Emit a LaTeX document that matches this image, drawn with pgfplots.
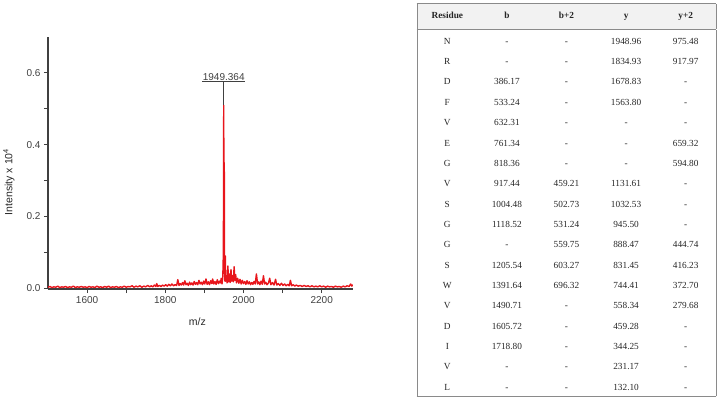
\documentclass[border=0pt]{standalone}
\usepackage[table]{xcolor}
\usepackage{array}
\usepackage{fontspec}
\setmainfont{Liberation Serif}
\newfontfamily\arial{Liberation Sans}
\usepackage{pgfplots}
\usepackage{pgfplotstable}
\pgfplotsset{compat=1.18}

\definecolor{specred}{HTML}{E8151B}
\definecolor{axgray}{HTML}{404040}
\definecolor{headgray}{HTML}{F2F2F2}
\definecolor{rulegray}{HTML}{8A8A8A}
\definecolor{txt}{HTML}{262626}

% MALDI spectrum (m/z, intensity x 10^4)
\pgfplotstableread{
x y
1500 0.003
1505 0.005
1510 0.002
1515 0.004
1520 0.003
1525 0.006
1530 0.002
1535 0.004
1540 0.003
1545 0.005
1550 0.002
1555 0.004
1560 0.003
1565 0.006
1570 0.002
1575 0.004
1580 0.003
1585 0.005
1590 0.003
1595 0.004
1600 0.002
1605 0.005
1610 0.003
1615 0.004
1620 0.002
1625 0.006
1630 0.003
1635 0.004
1640 0.002
1645 0.005
1650 0.003
1655 0.006
1660 0.002
1665 0.004
1670 0.003
1675 0.005
1680 0.002
1685 0.004
1690 0.003
1695 0.006
1700 0.003
1705 0.005
1710 0.004
1715 0.007
1720 0.003
1725 0.006
1730 0.004
1735 0.007
1740 0.003
1745 0.006
1750 0.004
1755 0.008
1760 0.004
1764 0.007
1768 0.004
1772 0.009
1776 0.005
1778 0.013
1781 0.005
1785 0.008
1789 0.005
1793 0.009
1797 0.006
1801 0.010
1805 0.006
1809 0.011
1813 0.007
1817 0.012
1821 0.007
1825 0.010
1829 0.008
1832 0.024
1835 0.008
1838 0.013
1841 0.009
1844 0.016
1847 0.009
1850 0.021
1853 0.010
1856 0.014
1859 0.008
1862 0.017
1865 0.010
1868 0.015
1871 0.009
1874 0.019
1877 0.011
1880 0.016
1883 0.010
1886 0.022
1889 0.012
1892 0.017
1895 0.010
1898 0.020
1901 0.012
1904 0.026
1907 0.011
1910 0.018
1913 0.010
1916 0.021
1919 0.013
1921 0.026
1924 0.012
1927 0.019
1930 0.011
1933 0.024
1936 0.013
1939 0.020
1941 0.015
1943 0.028
1945 0.012
1947 0.030
1948.5 0.10
1949.4 0.51
1950.2 0.12
1950.8 0.35
1951.6 0.05
1952.5 0.02
1953.5 0.09
1954.5 0.02
1956 0.035
1958 0.015
1960 0.062
1962 0.018
1964 0.040
1966 0.016
1968 0.052
1970 0.020
1972 0.035
1974 0.018
1976 0.060
1978 0.022
1980 0.038
1982 0.015
1985 0.028
1988 0.014
1991 0.025
1994 0.012
1997 0.022
2000 0.013
2003 0.019
2006 0.011
2009 0.021
2012 0.012
2015 0.018
2018 0.010
2021 0.016
2024 0.011
2027 0.019
2030 0.012
2033 0.040
2036 0.012
2039 0.018
2042 0.010
2045 0.020
2048 0.011
2051 0.035
2054 0.012
2057 0.017
2060 0.010
2064 0.015
2067 0.028
2070 0.010
2074 0.016
2078 0.009
2082 0.025
2085 0.009
2089 0.013
2093 0.008
2097 0.014
2101 0.008
2105 0.012
2109 0.007
2113 0.011
2117 0.007
2120 0.022
2123 0.007
2127 0.010
2131 0.006
2135 0.009
2140 0.006
2145 0.008
2150 0.005
2155 0.008
2160 0.005
2165 0.007
2170 0.004
2175 0.007
2180 0.004
2185 0.006
2190 0.004
2195 0.007
2200 0.004
2205 0.006
2210 0.003
2215 0.006
2220 0.004
2225 0.005
2230 0.003
2235 0.006
2240 0.004
2245 0.005
2250 0.003
2255 0.006
2260 0.004
2265 0.007
2270 0.005
2274 0.012
2277 0.006
2280 0.010
}\spectrum

% fragment ions
\pgfplotstableread{
Residue b b+2 y y+2
N - - 1948.96 975.48
R - - 1834.93 917.97
D 386.17 - 1678.83 -
F 533.24 - 1563.80 -
V 632.31 - - -
E 761.34 - - 659.32
G 818.36 - - 594.80
V 917.44 459.21 1131.61 -
S 1004.48 502.73 1032.53 -
G 1118.52 531.24 945.50 -
G - 559.75 888.47 444.74
S 1205.54 603.27 831.45 416.23
W 1391.64 696.32 744.41 372.70
V 1490.71 - 558.34 279.68
D 1605.72 - 459.28 -
I 1718.80 - 344.25 -
V - - 231.17 -
L - - 132.10 -
}\fragments

\begin{document}
\begin{tikzpicture}
\useasboundingbox (0,0) rectangle (722bp,-406bp);

\begin{axis}[
  at={(48bp,-289bp)}, anchor=south west,
  scale only axis, width=305bp, height=252bp,
  xmin=1500, xmax=2280, ymin=-0.002, ymax=0.7,
  axis x line*=bottom, axis y line*=left,
  axis line style={axgray, line width=1.5bp},
  xtick={1600,1800,2000,2200}, minor xtick={1700,1900,2100},
  ytick={0,0.2,0.4,0.6}, minor ytick={0.1,0.3,0.5},
  tick align=outside, major tick length=4bp, minor tick length=4bp,
  every tick/.style={axgray, line width=1.1bp},
  yticklabel style={/pgf/number format/.cd, fixed, fixed zerofill, precision=1},
  xticklabel style={/pgf/number format/1000 sep={}},
  /pgf/number format/assume math mode=true,
  ticklabel style={font=\arial\fontsize{10bp}{12bp}\selectfont, text=axgray},
  xlabel={m/z}, ylabel={Intensity x 10\textsuperscript{4}},
  label style={font=\arial\fontsize{10.5bp}{12bp}\selectfont, text=txt},
  xlabel style={at={(axis description cs:0.49,-0.13)}, anchor=center},
  ylabel style={at={(axis description cs:-0.128,0.425)}, anchor=center},
]
\addplot[specred, line width=1.4bp, line join=round] table {\spectrum};
\addplot[axgray, line width=1.3bp] coordinates {(1949.4,0.51) (1949.4,0.575)};
\addplot[axgray, line width=1.1bp] coordinates {(1894,0.575) (2004,0.575)};
\node[anchor=south, inner sep=1bp, text=axgray, font=\arial\fontsize{10bp}{12bp}\selectfont]
  at (axis cs:1949.4,0.575) {1949.364};
\end{axis}

\node[anchor=north west, inner sep=0pt, text=txt] at (416.5bp,-3bp) {%
  \fontsize{9.3bp}{11bp}\selectfont
  \setlength\tabcolsep{0pt}%
  \setlength\arrayrulewidth{0.8bp}%
  \arrayrulecolor{rulegray}%
  \renewcommand\arraystretch{1.85}%
  \pgfplotstabletypeset[
    string type,
    column type={>{\centering\arraybackslash}p{59.6bp}},
    every first column/.style={column type={|>{\centering\arraybackslash}p{59.6bp}}},
    every last column/.style={column type={>{\centering\arraybackslash}p{59.6bp}|}},
    every head row/.style={before row={\hline\rowcolor{headgray}}, after row={\hline}},
    every last row/.style={after row={\hline}},
    columns/Residue/.style={column name={\rule[-11bp]{0pt}{21bp}\textbf{Residue}}},
    columns/b/.style={column name={\textbf{b}}},
    columns/b+2/.style={column name={\textbf{b+2}}},
    columns/y/.style={column name={\textbf{y}}},
    columns/y+2/.style={column name={\textbf{y+2}}},
  ]\fragments};
\end{tikzpicture}
\end{document}
